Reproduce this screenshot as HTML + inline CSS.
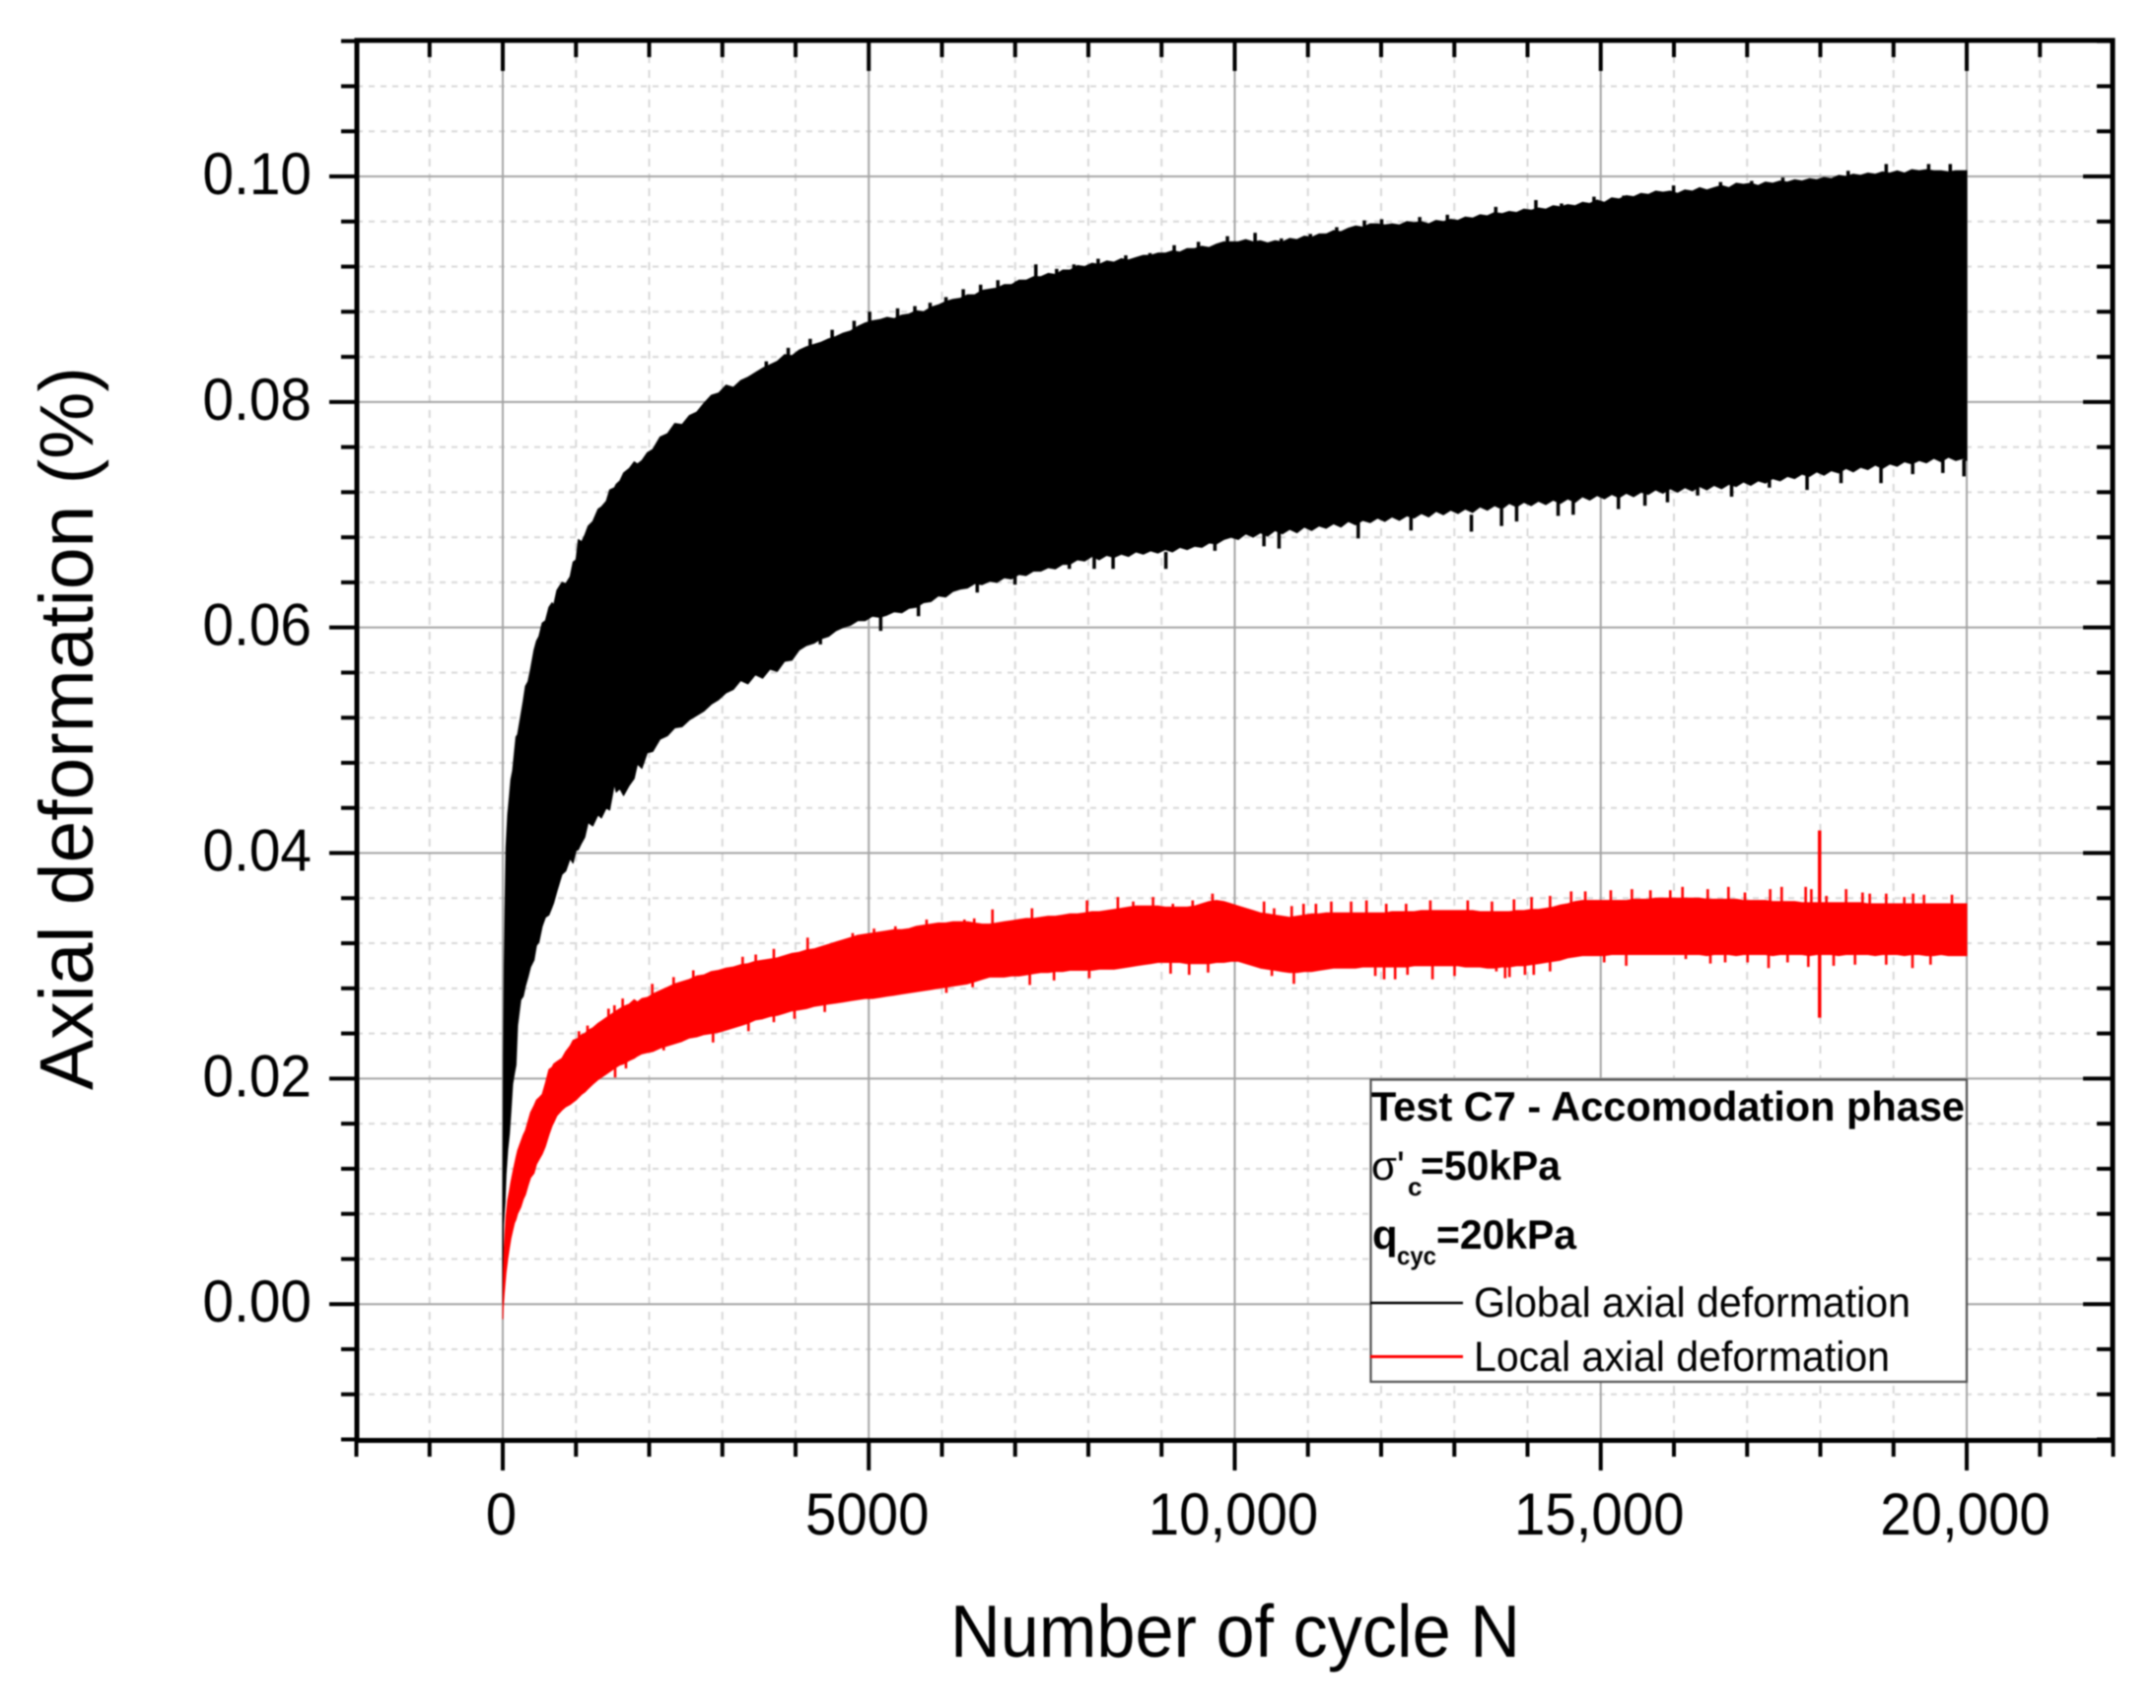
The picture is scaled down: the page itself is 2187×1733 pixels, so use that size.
<!DOCTYPE html>
<html lang="en">
<head>
<meta charset="utf-8">
<title>Axial deformation vs number of cycles</title>
<style>
html,body{margin:0;padding:0;background:#fff;width:2187px;height:1733px;overflow:hidden}
svg{display:block;filter:blur(0.8px)}
text{font-family:"Liberation Sans",Arial,sans-serif;fill:#000}
</style>
</head>
<body>
<svg id="chart" xmlns="http://www.w3.org/2000/svg" width="2187" height="1733" viewBox="0 0 2187 1733">
<rect x="0" y="0" width="2187" height="1733" fill="#fff"/>
<g id="grid"></g>
<g id="series"></g>
<g id="axes"></g>
<text transform="translate(94 1106) rotate(-90)" font-size="77" textLength="734" lengthAdjust="spacingAndGlyphs">Axial deformation (%)</text>
<text x="964" y="1681" font-size="75" textLength="578" lengthAdjust="spacingAndGlyphs">Number of cycle N</text>
<g>
<rect x="1390.5" y="1095.5" width="604.5" height="306.5" fill="#fff" stroke="#505050" stroke-width="2.2"/>
<text x="1391" y="1137" font-size="42" font-weight="bold" textLength="602" lengthAdjust="spacingAndGlyphs">Test C7 - Accomodation phase</text>
<text x="1391" y="1197" font-size="42">σ'</text>
<text x="1428" y="1213" font-size="26" font-weight="bold">c</text>
<text x="1441" y="1197" font-size="42" font-weight="bold" textLength="142" lengthAdjust="spacingAndGlyphs">=50kPa</text>
<text x="1392" y="1267" font-size="42" font-weight="bold">q</text>
<text x="1417" y="1283" font-size="26" font-weight="bold" textLength="40" lengthAdjust="spacingAndGlyphs">cyc</text>
<text x="1457" y="1267" font-size="42" font-weight="bold" textLength="142" lengthAdjust="spacingAndGlyphs">=20kPa</text>
<line x1="1390" y1="1322" x2="1484" y2="1322" stroke="#000" stroke-width="2.5"/>
<text x="1495" y="1336" font-size="43" textLength="443" lengthAdjust="spacingAndGlyphs">Global axial deformation</text>
<line x1="1390" y1="1376.5" x2="1484" y2="1376.5" stroke="#f00" stroke-width="3"/>
<text x="1495" y="1391" font-size="43" textLength="422" lengthAdjust="spacingAndGlyphs">Local axial deformation</text>
</g>
</svg>
<script>
const cycles = [0,5,10,20,30,45,67,90,110,135,160,180,202,247,280,310,345,380,427,460,494,539,583,630,673,696,740,808,860,920,960,1000,1032,1077,1120,1167,1230,1302,1347,1414,1460,1526,1549,1600,1650,1728,1795,1840,1900,1975,
2050,2150,2250,2350,2450,2550,2650,2750,2850,2950,3050,3150,3250,3350,3450,3550,3650,3750,3850,3950,
4050,4150,4250,4350,4450,4550,4650,4750,4850,4950,5050,5150,5250,5350,5450,5550,5650,5750,5850,5950,
6050,6150,6250,6350,6450,6550,6650,6750,6850,6950,7050,7150,7250,7350,7450,7550,7650,7750,7850,7950,
8050,8150,8250,8350,8450,8550,8650,8750,8850,8950,9050,9150,9250,9350,9450,9550,9650,9750,9850,9950,
10050,10150,10250,10350,10450,10550,10650,10750,10850,10950,11050,11150,11250,11350,11450,11550,11650,11750,11850,11950,
12050,12150,12250,12350,12450,12550,12650,12750,12850,12950,13050,13150,13250,13350,13450,13550,13650,13750,13850,13950,
14050,14150,14250,14350,14450,14550,14650,14750,14850,14950,15050,15150,15250,15350,15450,15550,15650,15750,15850,15950,
16050,16150,16250,16350,16450,16550,16650,16750,16850,16950,17050,17150,17250,17350,17450,17550,17650,17750,17850,17950,
18050,18150,18250,18350,18450,18550,18650,18750,18850,18950,19050,19150,19250,19350,19450,19550,19650,19750,19850,19950,20000];

const globalUpper = [.0060,.0150,.0220,.0300,.0350,.0405,.0434,.0450,.0465,.0473,.0490,.0503,.0505,.0522,.0535,.0548,.0552,.0563,.0580,.0588,.0592,.0604,.0606,.0618,.0622,.0620,.0633,.0640,.0639,.0645,.0658,.0660,.0678,.0676,.0682,.0690,.0694,.0705,.0707,.0712,.0722,.0724,.0727,.0730,.0737,.0741,.0747,.0745,.0748,.0755,
.0758,.0769,.0772,.0781,.0780,.0788,.0791,.0799,.0806,.0808,.0815,.0813,.0819,.0822,.0826,.0830,.0833,.0836,.0842,.0841,
.0846,.0849,.0851,.0853,.0856,.0858,.0861,.0863,.0867,.0870,.0872,.0873,.0875,.0874,.0877,.0878,.0881,.0880,.0884,.0886,
.0889,.0891,.0892,.0895,.0895,.0899,.0900,.0901,.0904,.0904,.0908,.0908,.0911,.0911,.0914,.0913,.0917,.0917,.0921,.0920,
.0923,.0922,.0925,.0924,.0927,.0926,.0928,.0930,.0930,.0932,.0932,.0934,.0933,.0936,.0936,.0938,.0937,.0940,.0942,.0942,
.0942,.0944,.0942,.0943,.0941,.0943,.0942,.0945,.0944,.0947,.0946,.0949,.0949,.0952,.0951,.0954,.0956,.0955,.0958,.0958,
.0957,.0958,.0957,.0960,.0959,.0960,.0958,.0961,.0960,.0962,.0961,.0964,.0963,.0966,.0965,.0968,.0967,.0969,.0968,.0971,
.0970,.0972,.0971,.0974,.0973,.0975,.0974,.0977,.0976,.0979,.0977,.0981,.0980,.0983,.0982,.0985,.0984,.0987,.0986,.0987,
.0985,.0988,.0987,.0990,.0988,.0990,.0992,.0990,.0994,.0993,.0994,.0992,.0995,.0994,.0996,.0995,.0997,.0996,.0998,.0997,
.0999,.0998,.1001,.1000,.1002,.1001,.1003,.1002,.1004,.1003,.1005,.1003,.1006,.1005,.1006,.1005,.1005,.1004,.1005,.1005,.1005];

const globalLower = [.0000,.0055,.0070,.0082,.0090,.0115,.0137,.0151,.0170,.0195,.0205,.0212,.0247,.0270,.0273,.0282,.0290,.0299,.0305,.0318,.0321,.0335,.0343,.0345,.0352,.0356,.0366,.0381,.0384,.0395,.0391,.0402,.0403,.0409,.0414,.0427,.0424,.0434,.0431,.0440,.0438,.0461,.0454,.0457,.0451,.0460,.0466,.0479,.0475,.0489,
.0490,.0501,.0504,.0511,.0512,.0518,.0522,.0526,.0532,.0536,.0542,.0545,.0553,.0550,.0558,.0555,.0563,.0561,.0570,.0571,
.0580,.0584,.0586,.0590,.0592,.0597,.0600,.0602,.0606,.0606,.0610,.0609,.0611,.0614,.0613,.0617,.0618,.0622,.0623,.0628,
.0627,.0632,.0634,.0635,.0639,.0638,.0641,.0640,.0644,.0643,.0647,.0646,.0650,.0650,.0653,.0652,.0656,.0656,.0660,.0659,
.0663,.0660,.0664,.0662,.0665,.0663,.0667,.0665,.0668,.0666,.0669,.0667,.0671,.0669,.0672,.0671,.0675,.0674,.0678,.0680,
.0678,.0683,.0680,.0684,.0681,.0686,.0683,.0687,.0684,.0689,.0686,.0690,.0688,.0692,.0689,.0694,.0691,.0695,.0693,.0697,
.0694,.0698,.0695,.0699,.0697,.0701,.0698,.0703,.0700,.0704,.0701,.0705,.0702,.0707,.0704,.0708,.0705,.0710,.0707,.0711,
.0708,.0712,.0709,.0713,.0710,.0714,.0711,.0716,.0713,.0717,.0714,.0718,.0715,.0719,.0716,.0720,.0718,.0722,.0719,.0723,
.0720,.0724,.0721,.0725,.0722,.0726,.0723,.0727,.0725,.0729,.0726,.0730,.0728,.0732,.0730,.0734,.0732,.0736,.0734,.0738,
.0735,.0739,.0737,.0741,.0738,.0742,.0740,.0744,.0741,.0745,.0743,.0747,.0745,.0748,.0746,.0750,.0747,.0751,.0748,.0750,.0748];

const globalPeakCycles = [3600,3900,4200,4500,4800,5012,5394,5630,5838,6055,6291,6528,6764,7019,7283,7567,7803,8134,8511,8842,9173,9504,9900,10278,10637,11034,11393,11771,12007,12527,12905,13330,13566,14114,14464,14908,15314,15739,15995,16637,17062,17488,18380,18900,19480,19775];
const globalPeakValues = [.0836,.0848,.0856,.0864,.0872,.0880,.0883,.0885,.0888,.0893,.0900,.0904,.0908,.0907,.0922,.0918,.0922,.0927,.0930,.0932,.0939,.0942,.0947,.0950,.0945,.0949,.0955,.0961,.0962,.0964,.0966,.0964,.0973,.0979,.0976,.0982,.0983,.0985,.0992,.0995,.0996,.0999,.1005,.1011,.1011,.1011];

const globalTroughCycles = [4339,5163,5679,6482,6998,7740,8080,8338,9059,9729,10399,10605,11687,12408,13233,13645,13851,14418,14624,15242,15604,15912,16324,16788,17304,17819,18283,18829,19262,19674,19962];
const globalTroughValues = [.0585,.0597,.0610,.0631,.0638,.0652,.0652,.0652,.0652,.0668,.0672,.0670,.0679,.0686,.0685,.0690,.0694,.0699,.0700,.0705,.0708,.0711,.0717,.0716,.0724,.0722,.0728,.0728,.0736,.0737,.0734];

const localUpper = [-.0012,.0010,.0030,.0050,.0062,.0078,.0092,.0100,.0108,.0116,.0124,.0130,.0136,.0144,.0150,.0154,.0162,.0170,.0176,.0181,.0183,.0186,.0196,.0208,.0210,.0213,.0215,.0218,.0224,.0229,.0234,.0235,.0236,.0239,.0240,.0243,.0245,.0249,.0251,.0254,.0256,.0259,.0260,.0262,.0264,.0266,.0270,.0268,.0271,.0272,
.0275,.0278,.0281,.0284,.0286,.0288,.0291,.0292,.0295,.0296,.0298,.0299,.0301,.0302,.0304,.0305,.0306,.0307,.0309,.0311,
.0312,.0314,.0315,.0317,.0319,.0321,.0323,.0325,.0327,.0328,.0329,.0330,.0331,.0332,.0332,.0333,.0335,.0336,.0337,.0338,
.0338,.0339,.0339,.0339,.0338,.0337,.0337,.0338,.0339,.0340,.0341,.0342,.0342,.0343,.0344,.0344,.0345,.0346,.0346,.0347,
.0348,.0348,.0349,.0350,.0351,.0352,.0353,.0353,.0353,.0353,.0352,.0352,.0352,.0352,.0353,.0355,.0357,.0358,.0357,.0355,
.0353,.0351,.0349,.0347,.0346,.0345,.0344,.0343,.0344,.0345,.0346,.0346,.0347,.0347,.0347,.0347,.0347,.0347,.0347,.0347,
.0347,.0348,.0348,.0348,.0348,.0349,.0349,.0349,.0349,.0349,.0349,.0349,.0349,.0348,.0348,.0348,.0348,.0348,.0349,.0349,
.0350,.0350,.0351,.0352,.0354,.0355,.0357,.0358,.0358,.0358,.0358,.0358,.0358,.0358,.0359,.0359,.0359,.0360,.0360,.0360,
.0360,.0360,.0360,.0360,.0359,.0359,.0359,.0359,.0359,.0358,.0358,.0358,.0358,.0357,.0357,.0357,.0357,.0356,.0356,.0356,
.0356,.0356,.0356,.0356,.0356,.0356,.0355,.0355,.0355,.0355,.0355,.0355,.0355,.0355,.0355,.0355,.0355,.0355,.0355,.0355,.0355];

const localLower = [-.0013,-.0005,.0000,.0010,.0017,.0028,.0040,.0050,.0058,.0065,.0072,.0075,.0080,.0086,.0093,.0097,.0105,.0112,.0116,.0124,.0128,.0133,.0140,.0150,.0158,.0161,.0167,.0172,.0175,.0177,.0179,.0181,.0183,.0186,.0188,.0191,.0195,.0199,.0201,.0204,.0206,.0209,.0210,.0212,.0213,.0216,.0218,.0220,.0222,.0223,
.0224,.0227,.0229,.0231,.0233,.0236,.0237,.0239,.0240,.0241,.0243,.0245,.0247,.0249,.0252,.0253,.0255,.0256,.0258,.0260,
.0261,.0262,.0264,.0265,.0266,.0267,.0268,.0269,.0270,.0271,.0271,.0272,.0273,.0274,.0275,.0276,.0277,.0278,.0279,.0280,
.0281,.0282,.0283,.0284,.0286,.0288,.0290,.0290,.0290,.0291,.0291,.0292,.0293,.0294,.0294,.0295,.0295,.0296,.0296,.0296,
.0296,.0297,.0297,.0297,.0298,.0299,.0300,.0301,.0302,.0303,.0303,.0303,.0303,.0302,.0302,.0302,.0302,.0303,.0303,.0304,
.0304,.0302,.0300,.0298,.0297,.0296,.0295,.0294,.0294,.0295,.0295,.0296,.0297,.0298,.0298,.0298,.0298,.0299,.0299,.0299,
.0299,.0299,.0299,.0299,.0300,.0300,.0300,.0300,.0300,.0300,.0300,.0299,.0299,.0299,.0298,.0298,.0299,.0299,.0300,.0300,
.0301,.0302,.0303,.0304,.0305,.0307,.0308,.0309,.0309,.0309,.0309,.0310,.0310,.0310,.0310,.0310,.0310,.0310,.0310,.0310,
.0310,.0310,.0310,.0310,.0309,.0310,.0310,.0310,.0309,.0310,.0310,.0310,.0310,.0309,.0310,.0310,.0310,.0310,.0309,.0310,
.0310,.0310,.0309,.0310,.0310,.0310,.0310,.0309,.0310,.0310,.0310,.0309,.0310,.0310,.0309,.0309,.0310,.0309,.0309,.0309,.0309];

const peakCycles = [1041,1158,1445,1526,1638,2042,2334,2603,3277,3456,3703,4165,4780,5072,5364,5790,6307,6441,6690,7230,7982,8403,8613,8884,9155,9425,9696,10400,10538,10778,10940,11109,11319,11590,11800,12070,12341,12672,13183,13514,13815,14055,14308,14596,14789,15137,15426,15679,15950,16117,16462,16745,16970,17315,17472,17800,17877,17990,18083,18352,18577,18675,18900,19147,19268,19416,19798];
const peakValues = [.0242,.0247,.0262,.0265,.0271,.0284,.0290,.0296,.0308,.0310,.0315,.0325,.0329,.0333,.0335,.0341,.0341,.0342,.0350,.0351,.0358,.0361,.0357,.0361,.0355,.0358,.0364,.0357,.0351,.0353,.0355,.0355,.0357,.0357,.0358,.0355,.0355,.0358,.0358,.0357,.0359,.0361,.0362,.0366,.0366,.0367,.0368,.0367,.0367,.0370,.0368,.0370,.0365,.0368,.0370,.0370,.0368,.0420,.0362,.0368,.0365,.0364,.0364,.0361,.0364,.0363,.0363];

const troughCycles = [1535,1683,2199,2873,3357,3703,3986,4399,6060,6419,7200,7531,8012,9124,9377,9636,10507,10808,11920,12041,12191,12360,12702,13003,13574,13694,13754,13965,14085,14308,15047,15348,16162,16498,16700,17006,17293,17553,17836,17990,18182,18474,18900,19259,19506];
const troughValues = [.0201,.0209,.0225,.0232,.0242,.0250,.0253,.0259,.0276,.0281,.0283,.0287,.0289,.0293,.0292,.0294,.0291,.0284,.0291,.0288,.0288,.0292,.0288,.0291,.0295,.0289,.0290,.0292,.0292,.0295,.0303,.0300,.0306,.0302,.0303,.0303,.0298,.0303,.0299,.0254,.0300,.0301,.0301,.0298,.0301];

const xMajorValues = [0,5000,10000,15000,20000];
const xMajorLabels = ["0","5000","10,000","15,000","20,000"];
const xMinorValues = [-2000,-1000,1000,2000,3000,4000,6000,7000,8000,9000,11000,12000,13000,14000,16000,17000,18000,19000,21000,22000];
const yMajorValues = [0,.02,.04,.06,.08,.10];
const yMajorLabels = ["0.00","0.02","0.04","0.06","0.08","0.10"];
const yMinorValues = [-.012,-.008,-.004,.004,.008,.012,.016,.024,.028,.032,.036,.044,.048,.052,.056,.064,.068,.072,.076,.084,.088,.092,.096,.104,.108,.112];

const SVGNS = "http://www.w3.org/2000/svg";
const xScale = n => 510 + n * 0.07425;
const yScale = v => 1323.2 - v * 11442;
const plotLeft = 362, plotRight = 2143, plotTop = 41, plotBottom = 1461.5;

function make(tag, parent, props) {
  const el = document.createElementNS(SVGNS, tag);
  for (const k in props) el.setAttribute(k, props[k]);
  parent.appendChild(el);
  return el;
}
const grid = document.getElementById("grid");
const series = document.getElementById("series");
const axes = document.getElementById("axes");

/* grid */
xMinorValues.forEach(v => {
  const el = make("line", grid, {x1:xScale(v), x2:xScale(v), y1:plotTop, y2:plotBottom, stroke:"#d8d8d8", "stroke-width":2, "stroke-dasharray":"8 7"});
  
  
});
yMinorValues.forEach(v => {
  const el = make("line", grid, {x1:plotLeft, x2:plotRight, y1:yScale(v), y2:yScale(v), stroke:"#d8d8d8", "stroke-width":2, "stroke-dasharray":"6 6"});
  
  
});
xMajorValues.forEach(v => {
  const el = make("line", grid, {x1:xScale(v), x2:xScale(v), y1:plotTop, y2:plotBottom, stroke:"#a4a4a4", "stroke-width":2});
  
  
});
yMajorValues.forEach(v => {
  const el = make("line", grid, {x1:plotLeft, x2:plotRight, y1:yScale(v), y2:yScale(v), stroke:"#a4a4a4", "stroke-width":2});
  
  
});

/* series */
function bandPath(xs, up, lo) {
  let d = "";
  xs.forEach((n, i) => { d += (i ? "L" : "M") + xScale(n).toFixed(1) + " " + yScale(up[i]).toFixed(1); });
  for (let i = xs.length - 1; i >= 0; i--) { d += "L" + xScale(xs[i]).toFixed(1) + " " + yScale(lo[i]).toFixed(1); }
  return d + "Z";
}
const globalBand = make("path", series, {d:bandPath(cycles, globalUpper, globalLower), fill:"#000", stroke:"#000", "stroke-width":1, "stroke-linejoin":"round"});



globalPeakCycles.forEach((n, i) => {
  const el = make("line", series, {x1:xScale(n), x2:xScale(n), y1:yScale(globalPeakValues[i]), y2:yScale(globalPeakValues[i] - 0.0015), stroke:"#000", "stroke-width":3.5});
  
  
});
globalTroughCycles.forEach((n, i) => {
  const el = make("line", series, {x1:xScale(n), x2:xScale(n), y1:yScale(globalTroughValues[i]), y2:yScale(globalTroughValues[i] + 0.0015), stroke:"#000", "stroke-width":3.5});
  
  
});

const localBand = make("path", series, {d:bandPath(cycles, localUpper, localLower), fill:"#f00", stroke:"#f00", "stroke-width":1, "stroke-linejoin":"round"});



peakCycles.forEach((n, i) => {
  const el = make("line", series, {x1:xScale(n), x2:xScale(n), y1:yScale(peakValues[i]), y2:yScale(peakValues[i] - 0.0015), stroke:"#f00", "stroke-width":n === 17990 ? 3.5 : 2.6});
  if (n === 17990) el.setAttribute("y2", yScale(peakValues[i] - 0.008));
  
  
});
troughCycles.forEach((n, i) => {
  const el = make("line", series, {x1:xScale(n), x2:xScale(n), y1:yScale(troughValues[i]), y2:yScale(troughValues[i] + 0.0015), stroke:"#f00", "stroke-width":n === 17990 ? 3.5 : 2.6});
  if (n === 17990) el.setAttribute("y2", yScale(troughValues[i] + 0.006));
  
  
});

/* ticks */
xMajorValues.forEach((v, i) => {
  const b = make("line", axes, {x1:xScale(v), x2:xScale(v), y1:plotBottom, y2:1492, stroke:"#000", "stroke-width":4});
  
  
  const t = make("line", axes, {x1:xScale(v), x2:xScale(v), y1:plotTop, y2:72, stroke:"#000", "stroke-width":4});
  
  
  const label = make("text", axes, {x:xScale(v) - 1.5, y:1557, "font-size":60, "text-anchor":"middle"});
  label.textContent = xMajorLabels[i];
  label.setAttribute("textLength", (label.getComputedTextLength() * 0.94).toFixed(1));
  label.setAttribute("lengthAdjust", "spacingAndGlyphs");
  
  
});
xMinorValues.forEach(v => {
  const b = make("line", axes, {x1:xScale(v), x2:xScale(v), y1:plotBottom, y2:1478, stroke:"#000", "stroke-width":4});
  
  
  const t = make("line", axes, {x1:xScale(v), x2:xScale(v), y1:plotTop, y2:58, stroke:"#000", "stroke-width":4});
  
  
});
yMajorValues.forEach((v, i) => {
  const l = make("line", axes, {x1:334, x2:plotLeft, y1:yScale(v), y2:yScale(v), stroke:"#000", "stroke-width":4});
  
  
  const r = make("line", axes, {x1:2113, x2:plotRight, y1:yScale(v), y2:yScale(v), stroke:"#000", "stroke-width":4});
  
  
  const label = make("text", axes, {x:205.5, y:yScale(v) + 18, "font-size":60, textLength:110.5, lengthAdjust:"spacingAndGlyphs"});
  label.textContent = yMajorLabels[i];
  
  
});
yMinorValues.forEach(v => {
  const l = make("line", axes, {x1:346, x2:plotLeft, y1:yScale(v), y2:yScale(v), stroke:"#000", "stroke-width":4});
  
  
  const r = make("line", axes, {x1:2127, x2:plotRight, y1:yScale(v), y2:yScale(v), stroke:"#000", "stroke-width":4});
  
  
});

/* frame */
const frame = make("rect", axes, {x:plotLeft, y:plotTop, width:plotRight - plotLeft, height:plotBottom - plotTop, fill:"none", stroke:"#000", "stroke-width":5});


</script>
</body>
</html>
